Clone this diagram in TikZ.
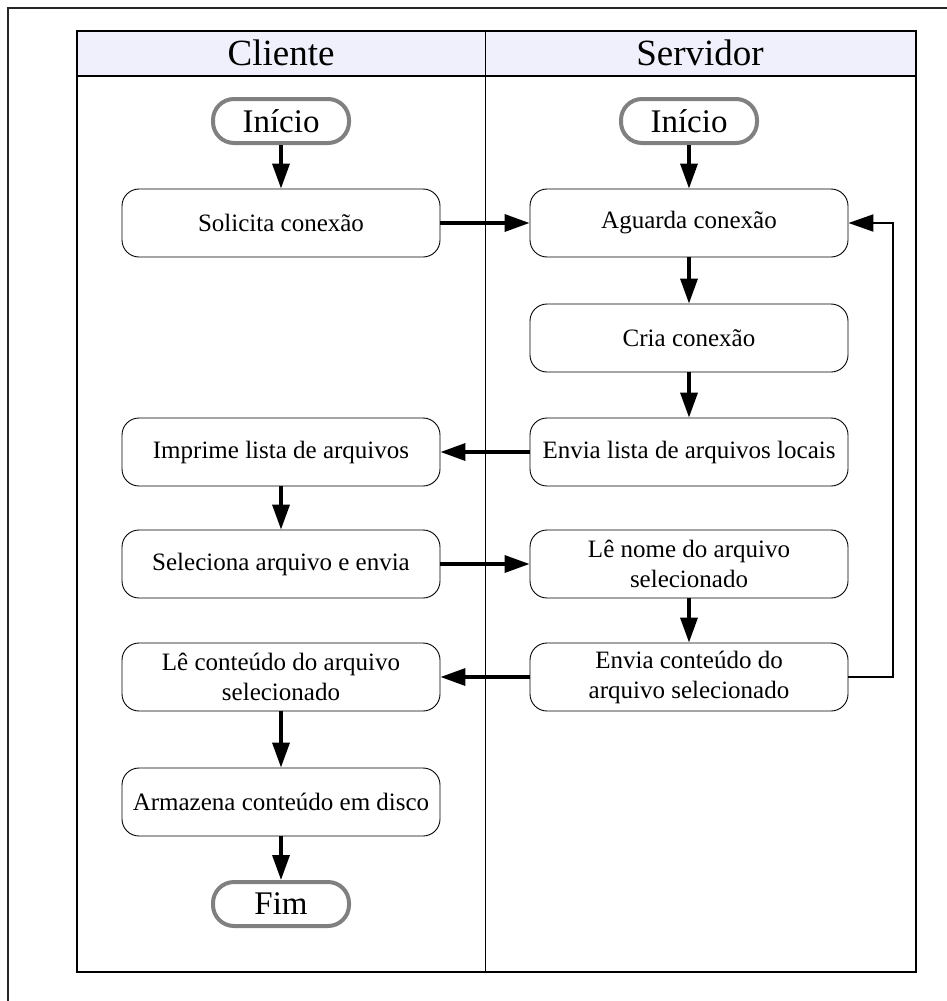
\documentclass[tikz,border=0pt]{standalone}
\usepackage{fontspec}
\setmainfont{Liberation Serif}
\usetikzlibrary{arrows.meta}
\definecolor{lanehead}{RGB}{240,240,252}
\definecolor{termgray}{RGB}{128,128,128}
\begin{document}
\begin{tikzpicture}[x=1pt,y=-1pt,
  stepbox/.style={draw=black, line width=0.9pt, rounded corners=17pt,
    minimum width=318pt, minimum height=68pt, align=center, inner sep=2pt,
    font=\fontsize{25}{30}\selectfont},
  terminal/.style={draw=termgray, line width=4pt, rounded corners=21pt,
    minimum width=136pt, minimum height=44pt, inner sep=0pt,
    font=\fontsize{33}{38}\selectfont},
  flow/.style={-{Triangle[length=25pt,width=17pt]}, line width=3.5pt},
  loopback/.style={-{Triangle[length=25pt,width=17pt]}, line width=2pt},
  lanetitle/.style={font=\fontsize{37}{42}\selectfont}
]
\useasboundingbox (0,0) rectangle (947,1001);

% outer page frame
\draw[line width=1.2pt, black!85] (947,8) -- (8,8) -- (8,1001);

% swimlanes
\fill[lanehead] (77,31) rectangle (916,76);
\draw[line width=1.2pt] (77,31) rectangle (916,972);
\draw[line width=1.2pt] (77,76) -- (916,76);
\draw[line width=1pt] (485,31) -- (485,972);
\node[lanetitle] (tcli) at (281,53) {Cliente};
\node[lanetitle] (tsrv) at (700,53) {Servidor};

% client lane
\node[terminal] (cini) at (281,121) {Início};
\node[stepbox]  (sol)  at (281,223) {Solicita conexão};
\node[stepbox]  (imp)  at (281,452) {Imprime lista de arquivos};
\node[stepbox]  (sel)  at (281,564) {Seleciona arquivo e envia};
\node[stepbox]  (lec)  at (281,677) {Lê conteúdo do arquivo\\selecionado};
\node[stepbox]  (arm)  at (281,802) {Armazena conteúdo em disco};
\node[terminal] (fim)  at (281,904) {Fim};

% server lane
\node[terminal] (sini) at (689,121) {Início};
\node[stepbox]  (agu)  at (689,223) {Aguarda conexão};
\node[stepbox]  (cri)  at (689,338) {Cria conexão};
\node[stepbox]  (envl) at (689,452) {Envia lista de arquivos locais};
\node[stepbox]  (len)  at (689,564) {Lê nome do arquivo\\selecionado};
\node[stepbox]  (envc) at (689,677) {Envia conteúdo do\\arquivo selecionado};

% connectors
\draw[flow] (cini) -- (sol);
\draw[flow] (sol.east) -- (agu.west);
\draw[flow] (sini) -- (agu);
\draw[flow] (agu) -- (cri);
\draw[flow] (cri) -- (envl);
\draw[flow] (envl.west) -- (imp.east);
\draw[flow] (imp) -- (sel);
\draw[flow] (sel.east) -- (len.west);
\draw[flow] (len) -- (envc);
\draw[flow] (envc.west) -- (lec.east);
\draw[flow] (lec) -- (arm);
\draw[flow] (arm) -- (fim);
\draw[loopback] (envc.east) -- ++(45,0) |- (agu.east);
\end{tikzpicture}
\end{document}
